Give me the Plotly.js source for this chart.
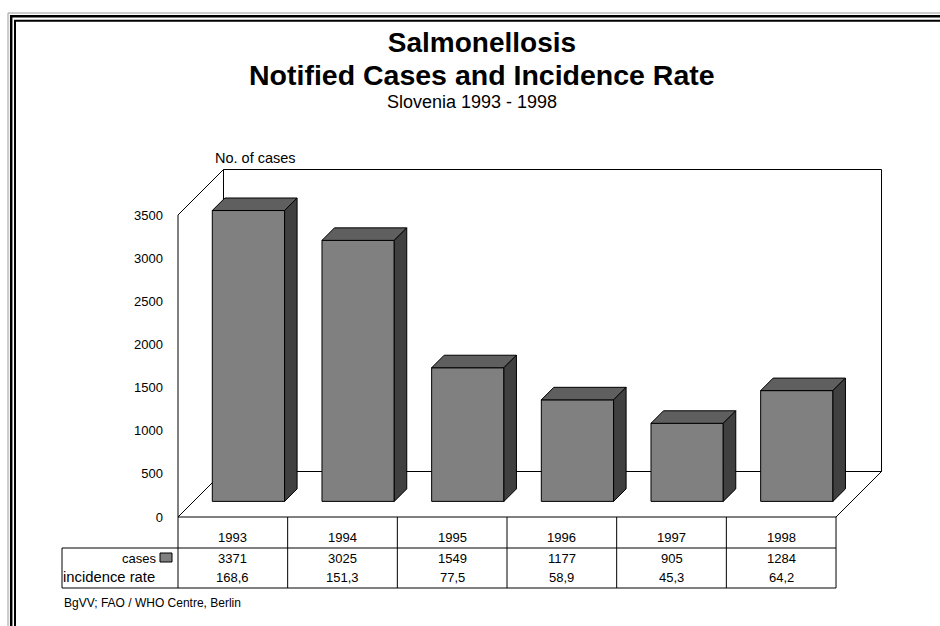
<!DOCTYPE html>
<html><head><meta charset="utf-8">
<script src="https://cdn.plot.ly/plotly-3.0.1.min.js"></script>
<style>html,body{margin:0;padding:0;background:#fff}</style>
</head><body><div id="chart" style="width:940px;height:626px"></div>
<script>
// ---- data ----
const years = ['1993','1994','1995','1996','1997','1998'];
const cases = [3371, 3025, 1549, 1177, 905, 1284];
const incidenceRate = [168.6, 151.3, 77.5, 58.9, 45.3, 64.2];
const yTickVals = [0, 500, 1000, 1500, 2000, 2500, 3000, 3500];

// ---- geometry (layout only) ----
const W = 940, H = 626;
const ML = 172, MR = 54, MT = 165, MB = 104;
const PX_PER_X = 109.67, X0PX = 178;
const PX_PER_Y = 302 / 3500, Y0PX = 517;
const XMIN = (ML - X0PX) / PX_PER_X, XMAX = (W - MR - X0PX) / PX_PER_X;
const YMIN = -(H - MB - Y0PX) / PX_PER_Y, YMAX = (Y0PX - MT) / PX_PER_Y;
const DX = 45.5 / PX_PER_X, DY = 45.5 / PX_PER_Y;
const YTOP = 3500, NCAT = years.length;
const F0 = 0.343, FB = 0.275, BW = 0.659;
const FONT = 'Liberation Sans, Arial, sans-serif';
const px2pX = p => (p - ML) / (W - ML - MR);
const px2pY = p => (H - MB - p) / (H - MT - MB);
const d2pX = x => (x - XMIN) / (XMAX - XMIN);

// ---- 3D bar faces derived from values ----
const cx = years.map((_, i) => i + 0.5 + F0 * DX);
const base = F0 * DY;
const topX = [], topY = [], sideX = [], sideY = [];
cases.forEach((v, i) => {
  const xl = cx[i] - BW / 2, xr = cx[i] + BW / 2, t = base + v;
  const ddx = FB * DX, ddy = FB * DY;
  topX.push(xl, xr, xr + ddx, xl + ddx, xl, null);
  topY.push(t, t, t + ddy, t + ddy, t, null);
  sideX.push(xr, xr + ddx, xr + ddx, xr, xr, null);
  sideY.push(base, base + ddy, t + ddy, t, base, null);
});

const traces = [
  {type: 'bar', name: 'cases', x: cx, y: cases, base: base, width: BW,
   marker: {color: '#808080', line: {color: '#000', width: 1}}, hoverinfo: 'skip'},
  {type: 'scatter', mode: 'lines', x: topX, y: topY, fill: 'toself', fillcolor: '#5f5f5f',
   line: {color: '#000', width: 1}, hoverinfo: 'skip', showlegend: false},
  {type: 'scatter', mode: 'lines', x: sideX, y: sideY, fill: 'toself', fillcolor: '#404040',
   line: {color: '#000', width: 1}, hoverinfo: 'skip', showlegend: false}
];

const shapes = [];
const ln = {color: '#000', width: 1};
// walls & floor
shapes.push({type: 'path', layer: 'below', xref: 'x', yref: 'y', line: ln, fillcolor: '#fff',
  path: `M ${DX},${DY} L ${NCAT + DX},${DY} L ${NCAT + DX},${YTOP + DY} L ${DX},${YTOP + DY} Z`});
shapes.push({type: 'path', layer: 'below', xref: 'x', yref: 'y', line: ln, fillcolor: '#fff',
  path: `M 0,0 L ${DX},${DY} L ${DX},${YTOP + DY} L 0,${YTOP} Z`});
shapes.push({type: 'path', layer: 'below', xref: 'x', yref: 'y', line: ln, fillcolor: '#fff',
  path: `M 0,0 L ${NCAT},0 L ${NCAT + DX},${DY} L ${DX},${DY} Z`});
// data table grid
for (let k = 0; k <= NCAT; k++) {
  shapes.push({type: 'line', xref: 'x', yref: 'paper', x0: k, x1: k, y0: px2pY(517), y1: px2pY(588), line: ln});
}
const xr6 = d2pX(NCAT);
shapes.push({type: 'line', xref: 'paper', yref: 'paper', x0: px2pX(62), x1: xr6, y0: px2pY(548), y1: px2pY(548), line: ln});
shapes.push({type: 'line', xref: 'paper', yref: 'paper', x0: px2pX(62), x1: xr6, y0: px2pY(588), y1: px2pY(588), line: ln});
shapes.push({type: 'line', xref: 'paper', yref: 'paper', x0: px2pX(62), x1: px2pX(62), y0: px2pY(548), y1: px2pY(588), line: ln});
// legend key
shapes.push({type: 'rect', xref: 'paper', yref: 'paper', x0: px2pX(160), x1: px2pX(172), y0: px2pY(553), y1: px2pY(562),
  fillcolor: '#808080', line: ln});
// outer frame
shapes.push({type: 'rect', xref: 'paper', yref: 'paper', x0: px2pX(8), x1: px2pX(1000), y0: px2pY(13), y1: px2pY(700),
  line: {color: '#9a9a9a', width: 1}});
shapes.push({type: 'rect', xref: 'paper', yref: 'paper', x0: px2pX(11.2), x1: px2pX(1000), y0: px2pY(16.2), y1: px2pY(700),
  line: {color: '#000', width: 2.5}});
shapes.push({type: 'rect', xref: 'paper', yref: 'paper', x0: px2pX(15), x1: px2pX(1000), y0: px2pY(20.8), y1: px2pY(700),
  line: {color: '#000', width: 2}});

const fmt = v => v.toFixed(1).replace('.', ',');
const annotations = [];
const tf = {family: FONT, size: 13, color: '#000'};
years.forEach((yr, i) => {
  annotations.push({xref: 'x', yref: 'paper', x: i + 0.5, y: px2pY(537), text: yr, showarrow: false, font: tf, yanchor: 'middle'});
  annotations.push({xref: 'x', yref: 'paper', x: i + 0.5, y: px2pY(558), text: String(cases[i]), showarrow: false, font: tf, yanchor: 'middle'});
  annotations.push({xref: 'x', yref: 'paper', x: i + 0.5, y: px2pY(577), text: fmt(incidenceRate[i]), showarrow: false, font: tf, yanchor: 'middle'});
});
annotations.push({xref: 'paper', yref: 'paper', x: px2pX(158), y: px2pY(558), xanchor: 'right', yanchor: 'middle', text: 'cases', showarrow: false, font: tf});
annotations.push({xref: 'paper', yref: 'paper', x: px2pX(61), y: px2pY(577), xanchor: 'left', yanchor: 'middle', text: 'incidence rate', showarrow: false, font: {family: FONT, size: 14.8, color: '#000'}});
annotations.push({xref: 'paper', yref: 'paper', x: px2pX(213), y: px2pY(158), xanchor: 'left', yanchor: 'middle', text: 'No. of cases', showarrow: false, font: {family: FONT, size: 14.5, color: '#000'}});
annotations.push({xref: 'paper', yref: 'paper', x: px2pX(482), y: px2pY(75), xanchor: 'center', yanchor: 'middle', text: '<b>Notified Cases and Incidence Rate</b>', showarrow: false, font: {family: FONT, size: 28.5, color: '#000'}});
annotations.push({xref: 'paper', yref: 'paper', x: px2pX(472), y: px2pY(102), xanchor: 'center', yanchor: 'middle', text: 'Slovenia 1993 - 1998', showarrow: false, font: {family: FONT, size: 18, color: '#000'}});
annotations.push({xref: 'paper', yref: 'paper', x: px2pX(62), y: px2pY(603), xanchor: 'left', yanchor: 'middle', text: 'BgVV; FAO / WHO Centre, Berlin', showarrow: false, font: {family: FONT, size: 12, color: '#000'}});

const layout = {
  width: W, height: H,
  margin: {l: ML, r: MR, t: MT, b: MB, pad: 0},
  paper_bgcolor: '#fff', plot_bgcolor: 'rgba(0,0,0,0)',
  showlegend: false,
  title: {text: '<b>Salmonellosis</b>',
    font: {family: FONT, size: 28, color: '#000'},
    xref: 'container', x: 482 / W, xanchor: 'center', yref: 'container', y: 1 - 42 / H, yanchor: 'middle'},
  xaxis: {range: [XMIN, XMAX], visible: false, fixedrange: true},
  yaxis: {range: [YMIN, YMAX], tickvals: yTickVals, ticktext: yTickVals.map(String), showgrid: false, zeroline: false,
    showline: false, ticks: '', ticklabelstandoff: 8, tickfont: {family: FONT, size: 13, color: '#000'}, fixedrange: true},
  shapes: shapes,
  annotations: annotations
};
Plotly.newPlot('chart', traces, layout, {displayModeBar: false, staticPlot: true});
</script></body></html>
